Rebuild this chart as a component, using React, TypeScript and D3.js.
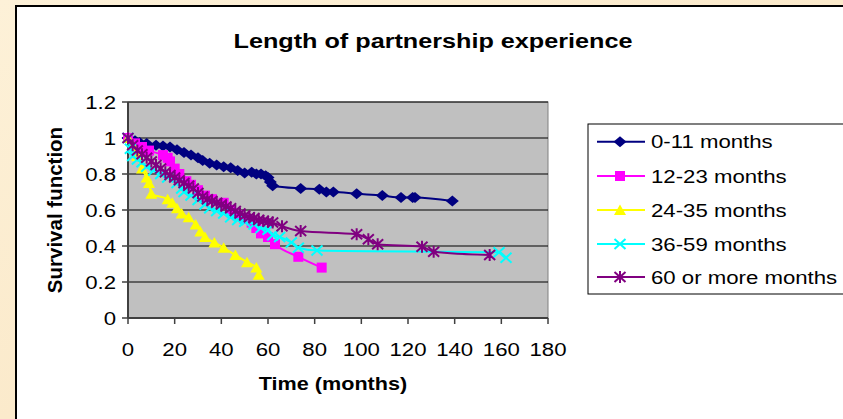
import React from 'react';
import * as d3 from 'd3';

const xTicks = [0, 20, 40, 60, 80, 100, 120, 140, 160, 180];
const yTicks = [0, 0.2, 0.4, 0.6, 0.8, 1, 1.2];
const yTickLabels = ['0', '0.2', '0.4', '0.6', '0.8', '1', '1.2'];
const seriesNames = ['0-11 months', '12-23 months', '24-35 months', '36-59 months', '60 or more months'];
const seriesColors = ['#000080', '#FF00FF', '#FFFF00', '#00FFFF', '#800080'];
const seriesMarkers = ['diamond', 'square', 'triangle', 'x', 'star'];

const s0011: [number, number][] = [
  [0, 1.0], [3, 0.985], [5, 0.975], [8, 0.97], [12, 0.96], [15, 0.955], [18, 0.95], [21, 0.935],
  [24, 0.92], [27, 0.905], [30, 0.89], [32, 0.875], [35, 0.86], [38, 0.85], [41, 0.84], [44, 0.835],
  [47, 0.82], [50, 0.805], [53, 0.81], [55, 0.8], [57, 0.8], [59, 0.79], [60, 0.78], [61, 0.755],
  [62, 0.735], [74, 0.72], [82, 0.715], [85, 0.7], [88, 0.7], [98, 0.69], [109, 0.68], [117, 0.67],
  [122, 0.67], [123, 0.67], [139, 0.65],
];
const s1223: [number, number][] = [
  [0, 1.0], [3, 0.97], [6, 0.95], [9, 0.93], [15, 0.905], [17, 0.89], [18, 0.87], [20, 0.83],
  [22, 0.8], [25, 0.76], [27, 0.74], [30, 0.71], [33, 0.68], [36, 0.66], [41, 0.64], [44, 0.6],
  [47, 0.57], [50, 0.55], [53, 0.53], [55, 0.5], [57, 0.47], [60, 0.45], [63, 0.41], [73, 0.34],
  [83, 0.28],
];
const s2435: [number, number][] = [
  [0, 1.0], [2, 0.96], [4, 0.9], [6, 0.83], [8, 0.78], [9, 0.75], [10, 0.69], [17, 0.66],
  [19, 0.64], [21, 0.61], [23, 0.58], [26, 0.56], [29, 0.52], [31, 0.48], [33, 0.45], [37, 0.42],
  [41, 0.39], [46, 0.35], [51, 0.31], [55, 0.28], [56, 0.24],
];
const s3659: [number, number][] = [
  [0, 1.0], [1, 0.94], [2, 0.9], [4, 0.88], [6, 0.865], [8, 0.84], [11, 0.82], [14, 0.8],
  [17, 0.78], [21, 0.75], [23, 0.72], [24, 0.7], [27, 0.68], [30, 0.655], [33, 0.63], [35, 0.61],
  [38, 0.595], [41, 0.58], [44, 0.56], [47, 0.545], [50, 0.535], [54, 0.52], [57, 0.5], [60, 0.49],
  [62, 0.46], [65, 0.45], [70, 0.42], [73, 0.39], [81, 0.375], [159, 0.365], [162, 0.335],
];
const s60plus: [number, number][] = [
  [0, 1.0], [2, 0.96], [4, 0.93], [6, 0.91], [8, 0.89], [10, 0.87], [12, 0.85], [14, 0.83],
  [16, 0.81], [18, 0.795], [20, 0.78], [22, 0.765], [24, 0.75], [26, 0.735], [28, 0.72], [30, 0.695],
  [32, 0.675], [34, 0.66], [36, 0.65], [38, 0.64], [40, 0.63], [42, 0.62], [44, 0.61], [46, 0.595],
  [48, 0.58], [50, 0.57], [52, 0.56], [54, 0.555], [56, 0.545], [58, 0.54], [60, 0.535], [62, 0.53],
  [66, 0.51], [74, 0.483], [98, 0.465], [103, 0.437], [107, 0.41], [126, 0.396], [131, 0.368],
  [155, 0.35],
];
const allSeries = [s0011, s1223, s2435, s3659, s60plus];

const FONT = '"Liberation Sans", Arial, sans-serif';
const SX = 1.2;

function Marker({ type, color, x, y }: { type: string; color: string; x: number; y: number }) {
  const t = `translate(${x},${y})`;
  if (type === 'diamond') return <path transform={t} d="M0,-5.5L6.5,0L0,5.5L-6.5,0Z" fill={color} />;
  if (type === 'square') return <rect transform={t} x={-5} y={-5} width={10} height={10} fill={color} />;
  if (type === 'triangle') return <path transform={t} d="M0,-5.5L6,5L-6,5Z" fill={color} />;
  if (type === 'x')
    return <path transform={t} d="M-5.5,-5L5.5,5M-5.5,5L5.5,-5" stroke={color} strokeWidth={2} fill="none" />;
  return (
    <path transform={t} d="M-5.5,-5L5.5,5M-5.5,5L5.5,-5M0,-6L0,6" stroke={color} strokeWidth={2} fill="none" />
  );
}

function SText({ x, y, anchor = 'start', size, bold = false, children }: any) {
  return (
    <text
      transform={`translate(${x},${y}) scale(${SX},1)`}
      textAnchor={anchor}
      fontFamily={FONT}
      fontSize={size}
      fontWeight={bold ? 'bold' : 'normal'}
      fill="#000"
    >
      {children}
    </text>
  );
}

export default function App() {
  const W = 843, H = 419;
  const x = d3.scaleLinear().domain([0, 180]).range([128, 548]);
  const y = d3.scaleLinear().domain([0, 1.2]).range([318, 102]);
  const line = d3
    .line<[number, number]>()
    .x((d) => x(d[0]))
    .y((d) => y(d[1]))
    .curve(d3.curveMonotoneX);

  const legendRows = [141.7, 176, 210, 244, 277];

  return (
    <svg width={W} height={H} style={{ position: 'absolute', left: 0, top: 0 }}>
      <defs>
        <linearGradient id="bg" x1="0" y1="0" x2="1" y2="1">
          <stop offset="0" stopColor="#FDF1D8" />
          <stop offset="0.5" stopColor="#FBEACB" />
          <stop offset="1" stopColor="#FCEFD5" />
        </linearGradient>
      </defs>
      <rect x={0} y={0} width={W} height={H} fill="url(#bg)" />
      <rect x={16} y={6} width={W} height={H} fill="#fff" stroke="#000" strokeWidth={2} />

      {/* title */}
      <SText x={433} y={48} anchor="middle" size={21} bold>
        Length of partnership experience
      </SText>

      {/* plot area */}
      <rect x={128} y={102} width={420} height={216} fill="#C0C0C0" stroke="#808080" strokeWidth={1} />
      {yTicks.map((t) => (
        <line key={'g' + t} x1={128} x2={548} y1={y(t)} y2={y(t)} stroke="#000" strokeWidth={1} />
      ))}
      {/* axes */}
      <line x1={128} x2={128} y1={102} y2={318} stroke="#404040" strokeWidth={2} />
      <line x1={128} x2={548} y1={318} y2={318} stroke="#404040" strokeWidth={2} />
      {yTicks.map((t, i) => (
        <g key={'yt' + t}>
          <line x1={122} x2={128} y1={y(t)} y2={y(t)} stroke="#404040" strokeWidth={1.5} />
          <SText x={116} y={y(t) + 6.5} anchor="end" size={18.5}>
            {yTickLabels[i]}
          </SText>
        </g>
      ))}
      {xTicks.map((t) => (
        <g key={'xt' + t}>
          <line x1={x(t)} x2={x(t)} y1={318} y2={324} stroke="#404040" strokeWidth={1.5} />
          <SText x={x(t)} y={356} anchor="middle" size={18.5}>
            {t}
          </SText>
        </g>
      ))}

      <SText x={333} y={390} anchor="middle" size={18} bold>
        Time (months)
      </SText>
      <text
        transform={`translate(62,210) rotate(-90)`}
        textAnchor="middle"
        fontFamily={FONT}
        fontSize={20.5}
        fontWeight="bold"
      >
        Survival function
      </text>

      {/* series */}
      {allSeries.map((s, i) => (
        <g key={'s' + i}>
          <path d={line(s) || ''} fill="none" stroke={seriesColors[i]} strokeWidth={2} />
          {s.map((d, j) => (
            <Marker key={j} type={seriesMarkers[i]} color={seriesColors[i]} x={x(d[0])} y={y(d[1])} />
          ))}
        </g>
      ))}

      {/* legend */}
      <rect x={588} y={124} width={300} height={170} fill="#fff" stroke="#000" strokeWidth={1} />
      {seriesNames.map((n, i) => (
        <g key={'l' + i}>
          <line x1={597} x2={645} y1={legendRows[i]} y2={legendRows[i]} stroke={seriesColors[i]} strokeWidth={2} />
          <Marker type={seriesMarkers[i]} color={seriesColors[i]} x={620} y={legendRows[i]} />
          <SText x={651} y={legendRows[i] + 6.5} size={18.5}>
            {n}
          </SText>
        </g>
      ))}
    </svg>
  );
}
